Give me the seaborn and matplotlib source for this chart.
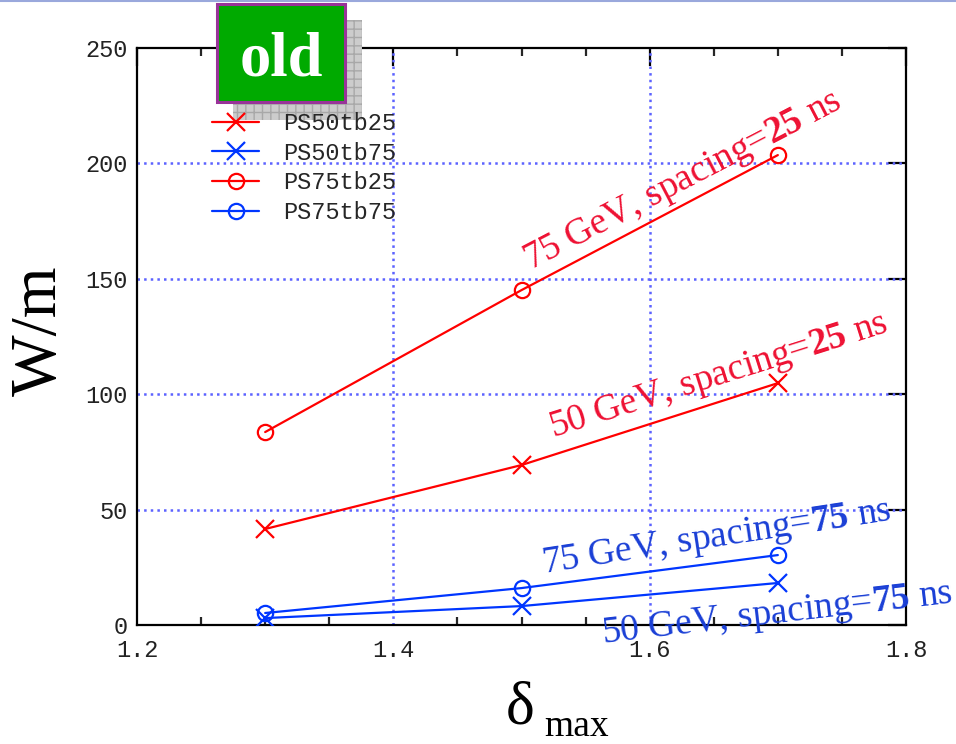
import matplotlib
matplotlib.use("Agg")
import matplotlib.pyplot as plt
import seaborn as sns
import pandas as pd
from matplotlib.patches import Rectangle
from matplotlib.lines import Line2D
from matplotlib.ticker import MultipleLocator
from matplotlib.font_manager import FontProperties

# ---- data ----
delta = [1.3, 1.5, 1.7]
ps50tb25 = [41.6, 69.3, 104.8]
ps50tb75 = [3.0, 8.2, 18.2]
ps75tb25 = [83.6, 145.1, 203.6]
ps75tb75 = [5.2, 16.0, 30.3]
series_names = ["PS50tb25", "PS50tb75", "PS75tb25", "PS75tb75"]
x_ticks = [1.2, 1.4, 1.6, 1.8]
y_ticks = [0, 50, 100, 150, 200, 250]
annotations = ["75 GeV, spacing=$\\mathbf{25}$ ns",
               "50 GeV, spacing=$\\mathbf{25}$ ns",
               "75 GeV, spacing=$\\mathbf{75}$ ns",
               "50 GeV, spacing=$\\mathbf{75}$ ns"]

sns.set_style("white")
plt.rcParams["font.family"] = ["Liberation Serif", "DejaVu Serif"]
plt.rcParams["mathtext.fontset"] = "custom"
plt.rcParams["mathtext.rm"] = "Liberation Serif"
plt.rcParams["mathtext.bf"] = "Liberation Serif:bold"
plt.rcParams["mathtext.it"] = "Liberation Serif:italic"

W, H = 956, 744
fig = plt.figure(figsize=(W / 100, H / 100), dpi=100)

def fx(px):
    return px / W

def fy(py):
    return 1 - py / H

ax = fig.add_axes([fx(137), fy(625), fx(906) - fx(137), fy(48) - fy(625)])

RED = "#ff0000"
BLUE = "#0036ff"
df = pd.DataFrame({
    "delta": delta * 4,
    "wm": ps50tb25 + ps50tb75 + ps75tb25 + ps75tb75,
    "series": sum([[n] * 3 for n in series_names], []),
})
colors = {"PS50tb25": RED, "PS50tb75": BLUE, "PS75tb25": RED, "PS75tb75": BLUE}
markers = {"PS50tb25": "x", "PS50tb75": "x", "PS75tb25": "o", "PS75tb75": "o"}
sizes = {"x": 13, "o": 11}
handles = []
for name in series_names:
    sub = df[df["series"] == name]
    m = markers[name]
    sns.lineplot(data=sub, x="delta", y="wm", ax=ax, color=colors[name],
                 marker=m, markersize=sizes[m], markerfacecolor="none",
                 markeredgecolor=colors[name], markeredgewidth=1.6,
                 linewidth=1.6, legend=False, zorder=3)
    handles.append(Line2D([], [], color=colors[name], marker=m, markersize=sizes[m],
                          markerfacecolor="none", markeredgecolor=colors[name],
                          markeredgewidth=1.6, linewidth=1.6))

ax.set_xlim(1.2, 1.8)
ax.set_ylim(0, 250)
ax.set_xticks(x_ticks)
ax.set_xticklabels([f"{v:.1f}" for v in x_ticks])
ax.xaxis.set_minor_locator(MultipleLocator(0.05))
ax.set_yticks(y_ticks)
ax.set_yticklabels([str(v) for v in y_ticks])
ax.set_xlabel("")
ax.set_ylabel("")

tickfont = FontProperties(family="Liberation Mono", size=17)
for lab in ax.get_xticklabels() + ax.get_yticklabels():
    lab.set_fontproperties(tickfont)
    lab.set_color("#222222")

ax.tick_params(axis="both", which="major", direction="in", length=13, width=1.6,
               top=True, right=True, color="black")
ax.tick_params(axis="x", which="minor", direction="in", length=6, width=1.6,
               top=True, bottom=True)
ax.tick_params(axis="x", which="major", pad=10)
ax.tick_params(axis="y", which="major", pad=7)
for s in ax.spines.values():
    s.set_color("black")
    s.set_linewidth(1.6)
    s.set_visible(True)

ax.grid(False)
for v in [50, 100, 150, 200]:
    ax.axhline(v, color="#5c62ff", linestyle=":", linewidth=1.8, zorder=1)
for v in [1.4, 1.6]:
    ax.axvline(v, color="#5c62ff", linestyle=":", linewidth=1.8, zorder=1)

# rotated annotations
ann_pos = [(530, 270, 27.5, "#ee1133"), (553, 437, 17.5, "#ee1133"),
           (543, 573, 8.7, "#1a3fd6"), (603, 643, 6.6, "#1a3fd6")]
for txt, (px, py, ang, col) in zip(annotations, ann_pos):
    fig.text(fx(px), fy(py), txt, rotation=ang, rotation_mode="anchor",
             ha="left", va="baseline", fontsize=27, color=col,
             family="Liberation Serif", zorder=5)

# legend
leg = fig.legend(handles, series_names, loc="upper left",
                 bbox_to_anchor=(fx(212), fy(112)), frameon=False,
                 prop=FontProperties(family="Liberation Mono", size=17),
                 handlelength=2.0, handletextpad=1.0, labelspacing=0.28,
                 borderpad=0, borderaxespad=0)
leg.set_zorder(10)

# axis labels
fig.text(fx(40), fy(331), "W/m", rotation=90, ha="center", va="center",
         fontsize=47, family="Liberation Serif", color="black")
fig.text(fx(506), fy(724), "\u03b4", ha="left", va="baseline", fontsize=44,
         family="Liberation Serif", color="black")
fig.text(fx(544), fy(736), "max", ha="left", va="baseline", fontsize=27,
         family="Liberation Serif", color="black")

# "old" badge with shadow
fig.add_artist(Rectangle((fx(233), fy(120)), fx(362) - fx(233), fy(20) - fy(120),
                         transform=fig.transFigure, facecolor="#cccccc",
                         edgecolor="#a8a8a8", hatch="++", linewidth=0, zorder=6))
fig.add_artist(Rectangle((fx(217), fy(102)), fx(345) - fx(217), fy(4) - fy(102),
                         transform=fig.transFigure, facecolor="#00aa00",
                         edgecolor="#993399", linewidth=2.2, zorder=7))
fig.text(fx(281), fy(75), "old", ha="center", va="baseline", fontsize=45,
         fontweight="bold", family="Liberation Serif", color="white", zorder=8)

# top thin border line
fig.add_artist(Line2D([0, 1], [fy(0.8), fy(0.8)], transform=fig.transFigure,
                      color="#9aa8dc", linewidth=1.5, zorder=9))

fig.savefig("out.png", dpi=100)
